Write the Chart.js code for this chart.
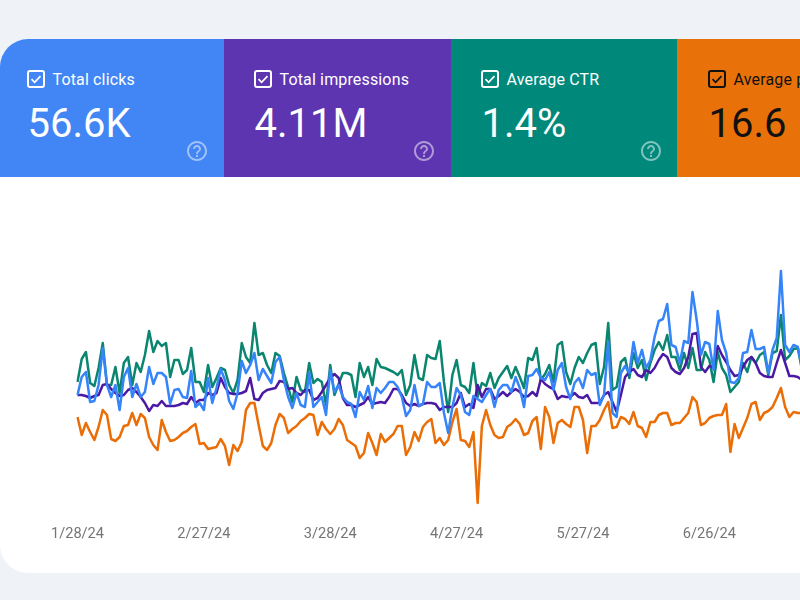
<!DOCTYPE html>
<html>
<head>
<meta charset="utf-8">
<title>Performance</title>
<script src="https://cdn.jsdelivr.net/npm/chart.js@4"></script>
<style>
html, body { margin: 0; padding: 0; width: 800px; height: 600px; overflow: hidden; background: #eff3f8; font-family: Roboto, sans-serif; }
.card { position: absolute; left: 0; top: 39px; width: 960px; height: 534px; background: #fff; border-radius: 28px; overflow: hidden; }
.tile { position: absolute; top: 0; height: 138px; color: #fff; }
.tile .box { position: absolute; left: var(--pad); top: 31px; }
.tile .name { position: absolute; left: calc(var(--pad) + 25.5px); top: 31px; font-size: 16px; line-height: 19px; letter-spacing: .15px; white-space: nowrap; }
.tile .value { position: absolute; left: calc(var(--pad) + .5px); top: 65px; font-size: 40px; line-height: 40px; white-space: nowrap; }
.tile .help { position: absolute; right: 15px; top: 100px; opacity: .5; }
#chartWrap { position: absolute; left: 0; top: 138px; width: 802px; height: 396px; }
</style>
</head>
<body>
<div class="card">
  <div class="tile" style="left:0;width:224px;background:#4285f4;--pad:27px" data-i="0"></div>
  <div class="tile" style="left:224px;width:227px;background:#5e35b1;--pad:30px" data-i="1"></div>
  <div class="tile" style="left:451px;width:227px;background:#00897b;--pad:30px" data-i="2"></div>
  <div class="tile" style="left:677px;width:226px;background:#e8710a;color:#111;--pad:31px" data-i="3"></div>
  <div id="chartWrap"><canvas id="grafico" width="802" height="396"></canvas></div>
</div>

<script>
/* --------------- datos --------------- */

const metricNames = ['Total clicks', 'Total impressions', 'Average CTR', 'Average position'];
const metricValues = ['56.6K', '4.11M', '1.4%', '16.6'];
const lineColors = ['#3584fa', '#4b19a4', '#0a8670', '#ea6d06'];
const tickDates = ['1/28/24', '2/27/24', '3/28/24', '4/27/24', '5/27/24', '6/26/24'];

const dates = [
    '1/28/24', '1/29/24', '1/30/24', '1/31/24',
    '2/1/24', '2/2/24', '2/3/24', '2/4/24', '2/5/24', '2/6/24', '2/7/24', '2/8/24', '2/9/24', '2/10/24',
    '2/11/24', '2/12/24', '2/13/24', '2/14/24', '2/15/24', '2/16/24', '2/17/24', '2/18/24', '2/19/24', '2/20/24',
    '2/21/24', '2/22/24', '2/23/24', '2/24/24', '2/25/24', '2/26/24', '2/27/24', '2/28/24', '2/29/24',
    '3/1/24', '3/2/24', '3/3/24', '3/4/24', '3/5/24', '3/6/24', '3/7/24', '3/8/24', '3/9/24', '3/10/24',
    '3/11/24', '3/12/24', '3/13/24', '3/14/24', '3/15/24', '3/16/24', '3/17/24', '3/18/24', '3/19/24', '3/20/24',
    '3/21/24', '3/22/24', '3/23/24', '3/24/24', '3/25/24', '3/26/24', '3/27/24', '3/28/24', '3/29/24', '3/30/24', '3/31/24',
    '4/1/24', '4/2/24', '4/3/24', '4/4/24', '4/5/24', '4/6/24', '4/7/24', '4/8/24', '4/9/24', '4/10/24',
    '4/11/24', '4/12/24', '4/13/24', '4/14/24', '4/15/24', '4/16/24', '4/17/24', '4/18/24', '4/19/24', '4/20/24',
    '4/21/24', '4/22/24', '4/23/24', '4/24/24', '4/25/24', '4/26/24', '4/27/24', '4/28/24', '4/29/24', '4/30/24',
    '5/1/24', '5/2/24', '5/3/24', '5/4/24', '5/5/24', '5/6/24', '5/7/24', '5/8/24', '5/9/24', '5/10/24',
    '5/11/24', '5/12/24', '5/13/24', '5/14/24', '5/15/24', '5/16/24', '5/17/24', '5/18/24', '5/19/24', '5/20/24',
    '5/21/24', '5/22/24', '5/23/24', '5/24/24', '5/25/24', '5/26/24', '5/27/24', '5/28/24', '5/29/24', '5/30/24', '5/31/24',
    '6/1/24', '6/2/24', '6/3/24', '6/4/24', '6/5/24', '6/6/24', '6/7/24', '6/8/24', '6/9/24', '6/10/24',
    '6/11/24', '6/12/24', '6/13/24', '6/14/24', '6/15/24', '6/16/24', '6/17/24', '6/18/24', '6/19/24', '6/20/24',
    '6/21/24', '6/22/24', '6/23/24', '6/24/24', '6/25/24', '6/26/24', '6/27/24', '6/28/24', '6/29/24', '6/30/24',
    '7/1/24', '7/2/24', '7/3/24', '7/4/24', '7/5/24', '7/6/24', '7/7/24', '7/8/24', '7/9/24', '7/10/24',
    '7/11/24', '7/12/24', '7/13/24', '7/14/24', '7/15/24', '7/16/24', '7/17/24', '7/18/24'
];

// sin eje Y en la imagen: cada serie va en la misma escala relativa
const clicks = [
    105, 123, 128, 98, 99, 115, 152, 115, 103, 115,
    90, 123, 132, 103, 116, 103, 108, 133, 116, 127,
    127, 123, 96, 110, 111, 103, 102, 129, 93, 97,
    90, 122, 97, 112, 131, 120, 99, 91, 107, 139,
    127, 135, 147, 120, 131, 124, 117, 138, 143, 120,
    103, 92, 107, 95, 93, 127, 93, 98, 103, 85,
    130, 108, 115, 103, 98, 96, 83, 108, 100, 114,
    92, 112, 107, 112, 118, 118, 113, 103, 84, 90,
    115, 94, 96, 118, 113, 113, 117, 87, 67, 93,
    112, 105, 88, 85, 104, 101, 98, 105, 111, 93,
    110, 115, 115, 108, 123, 112, 93, 124, 125, 131,
    122, 120, 128, 110, 130, 137, 113, 101, 117, 122,
    112, 130, 125, 127, 95, 105, 158, 87, 83, 127,
    134, 127, 158, 137, 150, 132, 140, 163, 179, 181,
    196, 155, 153, 137, 159, 157, 208, 180, 145, 158,
    156, 130, 189, 160, 147, 118, 117, 122, 147, 148,
    170, 151, 151, 153, 127, 150, 162, 229, 155, 148,
    155, 153, 133
];
const impressions = [
    105, 105, 104, 102, 104, 105, 115, 116, 111, 107,
    104, 105, 110, 112, 108, 103, 97, 89, 95, 94,
    99, 94, 94, 94, 95, 97, 96, 103, 97, 100,
    100, 107, 105, 107, 122, 113, 107, 106, 106, 107,
    109, 122, 101, 100, 107, 110, 111, 112, 119, 118,
    111, 112, 107, 105, 110, 110, 100, 102, 108, 115,
    122, 126, 122, 102, 95, 95, 93, 95, 97, 103,
    96, 97, 98, 97, 103, 111, 111, 105, 97, 94,
    96, 94, 96, 97, 97, 96, 90, 93, 93, 93,
    97, 107, 93, 96, 92, 115, 103, 111, 111, 101,
    104, 108, 104, 108, 111, 108, 103, 104, 108, 104,
    121, 116, 113, 111, 101, 104, 103, 103, 107, 103,
    102, 105, 97, 97, 97, 105, 108, 98, 88, 105,
    123, 128, 131, 125, 123, 130, 127, 132, 140, 146,
    143, 132, 128, 126, 132, 143, 166, 167, 133, 128,
    134, 133, 154, 145, 138, 130, 124, 125, 133, 140,
    143, 137, 127, 124, 123, 123, 137, 150, 137, 124,
    124, 123, 120
];
const ctr = [
    118, 141, 148, 117, 114, 132, 157, 115, 115, 133,
    107, 137, 143, 115, 137, 128, 145, 169, 148, 159,
    154, 157, 123, 140, 140, 126, 130, 152, 118, 118,
    108, 135, 113, 122, 132, 130, 115, 107, 120, 157,
    143, 137, 177, 145, 147, 135, 127, 147, 144, 127,
    113, 98, 123, 110, 108, 137, 117, 121, 118, 95,
    135, 105, 116, 127, 127, 125, 103, 137, 123, 133,
    115, 141, 133, 132, 130, 128, 125, 130, 105, 115,
    145, 122, 120, 145, 142, 141, 159, 118, 88, 125,
    140, 115, 113, 107, 137, 103, 117, 114, 127, 112,
    122, 128, 134, 122, 133, 123, 112, 142, 140, 152,
    120, 126, 135, 118, 155, 158, 128, 116, 132, 143,
    137, 147, 155, 157, 116, 133, 177, 110, 113, 138,
    142, 122, 147, 132, 140, 120, 137, 150, 158, 150,
    165, 143, 143, 130, 147, 132, 152, 130, 130, 148,
    140, 118, 148, 132, 125, 108, 113, 118, 137, 128,
    143, 137, 145, 148, 125, 147, 149, 185, 140, 144,
    151, 152, 130
];
const position = [
    83, 65, 77, 68, 60, 73, 90, 85, 61, 59,
    63, 74, 75, 87, 75, 86, 82, 63, 55, 50,
    80, 68, 59, 60, 63, 67, 69, 73, 76, 56,
    57, 51, 52, 53, 61, 54, 35, 55, 49, 58,
    90, 97, 97, 75, 54, 50, 57, 75, 86, 82,
    67, 71, 74, 79, 82, 86, 85, 65, 78, 71,
    66, 71, 81, 75, 60, 57, 54, 42, 47, 67,
    57, 45, 66, 58, 62, 66, 74, 74, 45, 53,
    68, 59, 73, 78, 81, 57, 62, 55, 60, 78,
    91, 60, 59, 53, 68, -3, 74, 90, 75, 65,
    62, 63, 73, 76, 81, 76, 65, 67, 79, 83,
    51, 93, 83, 57, 77, 80, 76, 73, 93, 93,
    80, 47, 74, 74, 80, 90, 98, 72, 73, 83,
    81, 76, 88, 74, 72, 63, 78, 78, 85, 87,
    87, 75, 77, 77, 82, 87, 103, 98, 75, 77,
    82, 84, 85, 85, 96, 48, 76, 62, 72, 82,
    96, 98, 80, 87, 89, 93, 102, 112, 93, 83,
    88, 87, 87
];

/* --------------- tarjetas --------------- */

document.querySelectorAll('.tile').forEach((tile) => {
    const i = Number(tile.dataset.i);
    tile.innerHTML = `
        <svg class="box" width="18" height="18" viewBox="0 0 18 18">
            <rect x="1" y="1" width="16" height="16" rx="2" fill="none" stroke="currentColor" stroke-width="2"/>
            <path d="M4.5 9.2 L7.6 12.3 L13.5 6.2" fill="none" stroke="currentColor" stroke-width="1.7"/>
        </svg>
        <div class="name">${metricNames[i]}</div>
        <div class="value">${metricValues[i]}</div>
        <svg class="help" width="24" height="24" viewBox="0 0 24 24" fill="currentColor">
            <path d="M11 18h2v-2h-2v2zm1-16C6.48 2 2 6.48 2 12s4.48 10 10 10 10-4.48 10-10S17.52 2 12 2zm0 18c-4.41 0-8-3.59-8-8s3.59-8 8-8 8 3.59 8 8-3.59 8-8 8zm0-14c-2.21 0-4 1.79-4 4h2c0-1.1.9-2 2-2s2 .9 2 2c0 2-3 1.75-3 5h2c0-2.25 3-2.5 3-5 0-2.21-1.79-4-4-4z"/>
        </svg>`;
});

/* --------------- grafico --------------- */

const seriesData = [clicks, impressions, ctr, position];

new Chart(document.getElementById('grafico'), {
    type: 'line',
    data: {
        labels: dates,
        datasets: seriesData.map((values, i) => ({
            label: metricNames[i],
            data: values,
            borderColor: lineColors[i],
            borderWidth: 2.5,
            pointRadius: 0,
            tension: 0,
            borderJoinStyle: 'round'
        }))
    },
    options: {
        responsive: false,
        animation: false,
        devicePixelRatio: 1,
        layout: { padding: { left: 77.5, right: 0, top: 23, bottom: 32 } },
        plugins: { legend: { display: false }, tooltip: { enabled: false } },
        scales: {
            x: {
                grid: { display: false, tickLength: 0 },
                border: { display: false },
                afterFit: (scale) => { scale.height = 31; },
                ticks: {
                    autoSkip: false,
                    maxRotation: 0,
                    minRotation: 0,
                    padding: 16,
                    color: '#757575',
                    font: { family: 'Roboto', size: 14.6 },
                    callback: function (value) {
                        const label = this.getLabelForValue(value);
                        return tickDates.includes(label) ? label : null;
                    }
                }
            },
            y: { display: false, min: -10, max: 300 }
        }
    }
});
</script>
</body>
</html>
